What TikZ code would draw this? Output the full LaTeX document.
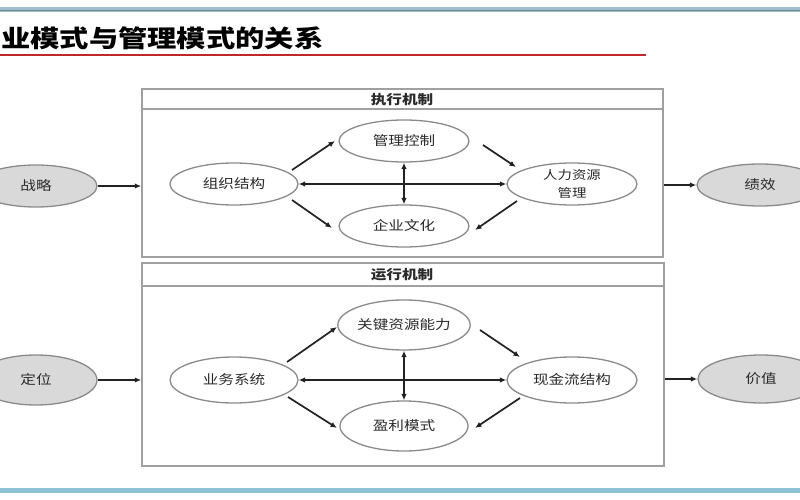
\documentclass[tikz,border=0pt]{standalone}
\usepackage{fontspec}
\setmainfont{Noto Sans CJK SC}[FakeStretch=1.2]
\newfontfamily\titlefont{Noto Sans CJK SC}[FakeStretch=1.22]
\usetikzlibrary{shapes.geometric,arrows.meta}
\definecolor{elc}{HTML}{8A8A8A}
\definecolor{boxc}{HTML}{A0A0A0}
\definecolor{gfill}{HTML}{D9D9D9}
\definecolor{arrc}{HTML}{222222}
\definecolor{txt}{HTML}{2A2A2A}
\definecolor{topline}{HTML}{9DC0CC}
\definecolor{botline}{HTML}{8EC3D8}
\definecolor{redline}{HTML}{C0262B}
\begin{document}
\begin{tikzpicture}[x=1pt,y=-1pt,
  el/.style={ellipse, draw=elc, line width=1.3pt, fill=white, inner sep=0pt,
    font=\fontsize{13}{15}\selectfont, text=txt, align=center},
  gel/.style={el, fill=gfill},
  bx/.style={draw=boxc, line width=1.5pt, inner sep=0pt, rectangle},
  hdr/.style={font=\bfseries\fontsize{13}{15}\selectfont, text=txt, inner sep=0pt},
  arr/.style={draw=arrc, line width=1.7pt, -{Latex[length=6.5pt,width=5.5pt]}},
  barr/.style={draw=arrc, line width=1.7pt, {Latex[length=6.5pt,width=5.5pt]}-{Latex[length=6.5pt,width=5.5pt]}}
]
\useasboundingbox (0,0) rectangle (800,500);
% top and bottom rules, title
\draw[topline, line width=5pt] (0,10) -- (800,10);
\draw[topline!70!black, line width=1pt] (0,11) -- (800,11);
\draw[botline, line width=5pt] (0,490) -- (800,490);
\node[anchor=west, inner sep=0pt, text=black, font=\titlefont\bfseries\fontsize{24}{26}\selectfont] (title) at (1,38) {业模式与管理模式的关系};
\draw[redline, line width=2.6pt] (0,55) -- (646,55);

% boxes
\node[bx, minimum width=521pt, minimum height=168pt] (b1) at (402.5,173) {};
\draw[boxc, line width=1.5pt] (142,109) -- (663,109);
\node[hdr] (h1) at (402,100) {执行机制};
\node[bx, minimum width=522pt, minimum height=203pt] (b2) at (403,364.5) {};
\draw[boxc, line width=1.5pt] (142,286) -- (664,286);
\node[hdr] (h2) at (402,275) {运行机制};

% outer ellipses
\node[gel, minimum width=122pt, minimum height=42pt] (zl) at (36,186) {战略};
\node[gel, minimum width=126pt, minimum height=42pt] (jx) at (760,185) {绩效};
\node[gel, minimum width=122pt, minimum height=50pt] (dw) at (36,380) {定位};
\node[gel, minimum width=126pt, minimum height=48pt] (jz) at (761,379) {价值};

% upper inner ellipses
\node[el, minimum width=128pt, minimum height=42pt] (zz) at (234,184) {组织结构};
\node[el, minimum width=130pt, minimum height=42pt] (gl) at (404,141) {管理控制};
\node[el, minimum width=130pt, minimum height=42pt] (wh) at (404,226) {企业文化};
\node[el, minimum width=130pt, minimum height=42pt, font=\fontsize{12}{18}\selectfont] (hr) at (572,184) {人力资源\\管理};

% lower inner ellipses
\node[el, minimum width=128pt, minimum height=46pt] (yw) at (234,380) {业务系统};
\node[el, minimum width=128pt, minimum height=50pt] (gj) at (404,325) {关键资源能力};
\node[el, minimum width=128pt, minimum height=50pt] (yl) at (404,426) {盈利模式};
\node[el, minimum width=130pt, minimum height=46pt] (xj) at (572,380) {现金流结构};

% outer connectors
\draw[arr] (zl.east) -- (zl.east -| b1.west);
\draw[arr] (jx.west -| b1.east) -- (jx.west);
\draw[arr] (dw.east) -- (dw.east -| b2.west);
\draw[arr] (jz.west -| b2.east) -- (jz.west);

% upper connectors
\draw[barr] (zz.east) -- (hr.west);
\draw[barr] (gl.south) -- (wh.north);
\coordinate (u1a) at (292,170); \coordinate (u1b) at (335,141);
\coordinate (u2a) at (292,200); \coordinate (u2b) at (332,228);
\coordinate (u3a) at (483,145); \coordinate (u3b) at (516,167);
\coordinate (u4a) at (517,201); \coordinate (u4b) at (475,230);
\draw[arr] (u1a) -- (u1b);
\draw[arr] (u2a) -- (u2b);
\draw[arr] (u3a) -- (u3b);
\draw[arr] (u4a) -- (u4b);

% lower connectors
\draw[barr] (yw.east) -- (xj.west);
\draw[barr] (gj.south) -- (yl.north);
\coordinate (l1a) at (287,362); \coordinate (l1b) at (337,327);
\coordinate (l2a) at (288,397); \coordinate (l2b) at (337,428);
\coordinate (l3a) at (480,330); \coordinate (l3b) at (520,357);
\coordinate (l4a) at (520,398); \coordinate (l4b) at (475,428);
\draw[arr] (l1a) -- (l1b);
\draw[arr] (l2a) -- (l2b);
\draw[arr] (l3a) -- (l3b);
\draw[arr] (l4a) -- (l4b);
\end{tikzpicture}
\end{document}
